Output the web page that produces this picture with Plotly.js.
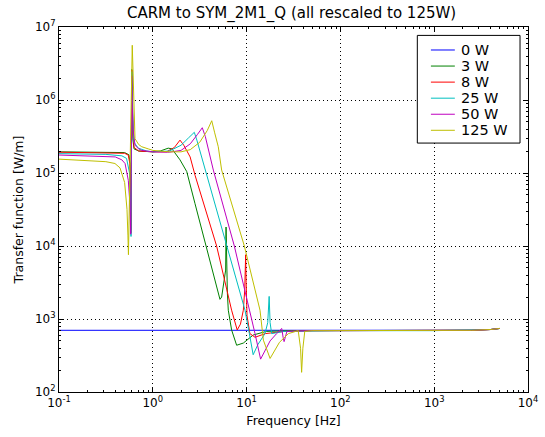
<!DOCTYPE html>
<html>
<head>
<meta charset="utf-8">
<script src="https://cdn.plot.ly/plotly-3.0.1.min.js"></script>
<style>html,body{margin:0;padding:0;background:#fff;}#chart{width:545px;height:437px;}</style>
</head>
<body>
<div id="chart"></div>
<script>
// ---- data (frequency in Hz, transfer function in W/m) ----
var seriesNames = ['0 W', '3 W', '8 W', '25 W', '50 W', '125 W'];

var freq_0W = [0.1, 1, 10, 100, 1000, 2500, 4000, 5000];
var tf_0W   = [700, 700, 700, 700, 700, 702, 718, 742];

var freq_3W = [0.1, 0.316, 0.501, 0.556, 0.575, 0.583, 0.587, 0.597, 0.604, 0.614, 0.631, 0.708, 1.0, 1.2, 1.46, 1.6,
               1.95, 2.3, 2.82, 3.89, 4.6, 5.01, 5.2, 5.42, 5.69, 5.98, 6.04, 6.11, 6.24, 6.38, 6.92, 7.83, 9.23, 11.75, 16.2,
               30, 100, 1000, 2500, 4000, 5000];
var tf_3W   = [195000, 193600, 190500, 177800, 131800, 50100, 16600, 2630000, 631000, 282000, 214000, 200000, 195000, 200000, 219000, 214000,
               151400, 104700, 38000, 7940, 3550, 2140, 1860, 2000, 2950, 4680, 18200, 6310, 2240, 1320, 708, 437, 468, 603, 676,
               692, 692, 692, 700, 718, 742];

var freq_8W = [0.1, 0.316, 0.501, 0.548, 0.569, 0.579, 0.586, 0.598, 0.605, 0.617, 0.631, 0.708, 1.0, 1.4, 1.7, 1.95, 2.14,
               2.5, 2.82, 4.79, 6.92, 7.94, 8.6, 9.23, 9.55, 9.77, 9.89, 10.1, 10.84, 12.3, 15.85, 25.1, 50,
               100, 1000, 2500, 4000, 5000];
var tf_8W   = [192800, 190500, 186200, 175800, 134900, 63100, 15100, 2570000, 708000, 316000, 224000, 200000, 195000, 195000, 224000, 282000, 240000,
               166000, 93300, 10000, 1320, 708, 851, 1320, 2510, 7590, 3160, 1120, 631, 562, 631, 676, 692,
               692, 692, 700, 718, 742];

var freq_25W = [0.1, 0.316, 0.468, 0.525, 0.565, 0.578, 0.586, 0.598, 0.605, 0.617, 0.631, 0.7, 0.861, 1.0, 1.5, 2.0, 2.4, 2.77,
                2.95, 3.18, 3.6, 6.12, 9.62, 10.7, 11.75, 13.2, 15.7, 16.8, 17.4, 17.8, 18.5, 25.1, 50,
                100, 1000, 2500, 4000, 5000];
var tf_25W   = [184100, 179900, 171800, 158500, 100000, 39800, 13500, 2450000, 891000, 398000, 263000, 219000, 200000, 195000, 200000, 240000, 302000, 361000,
                282000, 200000, 109600, 10000, 1320, 631, 324, 447, 631, 891, 2040, 891, 631, 676, 692,
                692, 692, 700, 718, 742];

var freq_50W = [0.1, 0.251, 0.398, 0.468, 0.506, 0.548, 0.569, 0.582, 0.597, 0.605, 0.617, 0.631, 0.646, 0.708, 0.762, 1.0, 1.5,
                2.0, 2.51, 3.0, 3.37, 3.63, 3.98, 4.42, 7.4, 10.86, 12.3, 14.1, 15.85, 17.8, 20.9, 23.7, 24.5, 25.1, 26.9, 50,
                100, 1000, 2500, 4000, 5000];
var tf_50W   = [176200, 171800, 166000, 151400, 134900, 79400, 38900, 14500, 2140000, 794000, 398000, 282000, 240000, 214000, 204000, 195000, 192800,
                204000, 251000, 339000, 417000, 316000, 200000, 109600, 10000, 1320, 631, 282, 380, 501, 631, 741, 562, 490, 676, 692,
                692, 692, 700, 718, 742];

var freq_125W = [0.1, 0.2, 0.316, 0.395, 0.447, 0.501, 0.531, 0.543, 0.55, 0.604, 0.611, 0.624, 0.638, 0.646, 0.708, 0.762, 0.895, 1.0,
                 1.5, 2.0, 2.51, 3.16, 3.8, 4.25, 4.57, 4.99, 5.42, 9.46, 13.9, 15.1, 17.8, 22.4, 27.9, 35.5, 37.6, 38.6, 39.8, 41.7, 50,
                 100, 1000, 2500, 4000, 5000];
var tf_125W   = [154900, 149600, 142900, 134900, 117500, 74100, 31600, 14100, 7590, 5620000, 3160000, 794000, 355000, 295000, 245000, 229000, 214000, 204000,
                 195000, 195000, 209000, 263000, 380000, 520000, 355000, 229000, 109600, 10000, 1320, 513, 288, 479, 631, 692, 398, 186, 398, 676, 692,
                 692, 692, 700, 718, 742];

var xTickVals = [0.1, 1, 10, 100, 1000, 10000];
var xTickText = ['10<sup>-1</sup>', '10<sup>0</sup>', '10<sup>1</sup>', '10<sup>2</sup>', '10<sup>3</sup>', '10<sup>4</sup>'];
var yTickVals = [100, 1000, 10000, 100000, 1000000, 10000000];
var yTickText = ['10<sup>2</sup>', '10<sup>3</sup>', '10<sup>4</sup>', '10<sup>5</sup>', '10<sup>6</sup>', '10<sup>7</sup>'];

// ---- styling ----
var colors = ['#0000ff', '#008000', '#ff0000', '#00bfbf', '#bf00bf', '#bfbf00'];
var xs = [freq_0W, freq_3W, freq_8W, freq_25W, freq_50W, freq_125W];
var ys = [tf_0W, tf_3W, tf_8W, tf_25W, tf_50W, tf_125W];

function minorTicks(lo, hi) {
  var v = [];
  for (var e = lo; e < hi; e++) {
    for (var k = 2; k <= 9; k++) v.push(k * Math.pow(10, e));
  }
  return v;
}

var traces = [];
for (var i = 0; i < seriesNames.length; i++) {
  traces.push({
    x: xs[i], y: ys[i], type: 'scatter', mode: 'lines', name: seriesNames[i],
    line: {color: colors[i], width: 1}
  });
}

// legend box drawn in paper coordinates (matplotlib-style compact rows)
var legBox = {x0: 0.7640, x1: 0.9830, y0: 0.6820, y1: 0.9770};
var legLineX0 = 0.7930, legLineX1 = 0.8440, legTextX = 0.8560;
var legRowTop = 0.9370, legRowStep = 0.0440;
var shapes = [{type: 'rect', xref: 'paper', yref: 'paper', x0: legBox.x0, x1: legBox.x1, y0: legBox.y0, y1: legBox.y1,
               line: {color: 'black', width: 1}, fillcolor: 'white', layer: 'above'}];
var annotations = [];
for (var j = 0; j < seriesNames.length; j++) {
  var yy = legRowTop - j * legRowStep;
  shapes.push({type: 'line', xref: 'paper', yref: 'paper', x0: legLineX0, x1: legLineX1, y0: yy, y1: yy,
               line: {color: colors[j], width: 1}, layer: 'above'});
  annotations.push({xref: 'paper', yref: 'paper', x: legTextX, y: yy, xanchor: 'left', yanchor: 'middle',
                    text: seriesNames[j], showarrow: false, height: 14, borderpad: 0, valign: 'middle',
                    font: {family: 'DejaVu Sans', size: 14.5, color: 'black'}});
}

var axisCommon = {
  type: 'log', showline: true, linecolor: 'black', linewidth: 1, mirror: 'allticks',
  ticks: 'inside', ticklen: 4, tickcolor: 'black', tickwidth: 1,
  showgrid: true, gridcolor: 'black', griddash: '1px,3px', gridwidth: 1,
  zeroline: false, tickmode: 'array',
  tickfont: {family: 'DejaVu Sans', size: 12, color: 'black'}
};

var layout = {
  width: 545, height: 437,
  paper_bgcolor: 'white', plot_bgcolor: 'white',
  margin: {l: 59, r: 17, t: 27, b: 45},
  showlegend: false,
  title: {text: 'CARM to SYM_2M1_Q (all rescaled to 125W)', x: 0.535, xanchor: 'center', y: 0.97, yanchor: 'middle',
          font: {family: 'DejaVu Sans', size: 15, color: 'black'}},
  xaxis: Object.assign({}, axisCommon, {
    range: [-1, 4], tickvals: xTickVals, ticktext: xTickText,
    minor: {tickmode: 'array', tickvals: minorTicks(-1, 4), ticks: 'inside', ticklen: 2, tickcolor: 'black', showgrid: false},
    title: {text: 'Frequency [Hz]', standoff: 6, font: {family: 'DejaVu Sans', size: 12.5, color: 'black'}}
  }),
  yaxis: Object.assign({}, axisCommon, {
    range: [2, 7], tickvals: yTickVals, ticktext: yTickText,
    minor: {tickmode: 'array', tickvals: minorTicks(2, 7), ticks: 'inside', ticklen: 2, tickcolor: 'black', showgrid: false},
    title: {text: 'Transfer function [W/m]', standoff: 8, font: {family: 'DejaVu Sans', size: 12.5, color: 'black'}}
  }),
  shapes: shapes,
  annotations: annotations
};

Plotly.newPlot('chart', traces, layout, {displayModeBar: false, staticPlot: true});
</script>
</body>
</html>
